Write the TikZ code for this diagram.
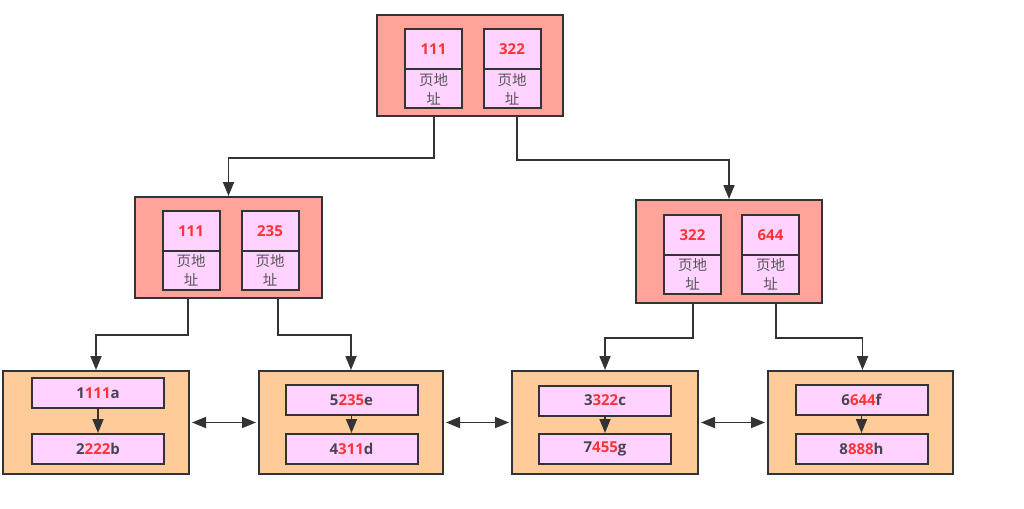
\documentclass[tikz,border=0pt]{standalone}
\usepackage{fontspec}
\setmainfont{Open Sans}
\newfontfamily\cjk{Noto Sans CJK SC}
\usetikzlibrary{arrows.meta}
\definecolor{bd}{HTML}{333333}
\definecolor{salm}{HTML}{FFA39B}
\definecolor{peach}{HTML}{FFCC99}
\definecolor{pinkb}{HTML}{FFD2FF}
\definecolor{rd}{HTML}{FF3333}
\definecolor{dk}{HTML}{4A4452}
\definecolor{gr}{HTML}{555555}
\newcommand{\lk}[3]{\textcolor{dk}{#1}\textcolor{rd}{#2}\textcolor{dk}{#3}}
\begin{document}
\begin{tikzpicture}[x=1pt,y=-1pt,
  pg/.style={draw=bd, line width=2pt, fill=salm, inner sep=0pt},
  lf/.style={draw=bd, line width=2pt, fill=peach, inner sep=0pt},
  keyb/.style={draw=bd, line width=2pt, fill=pinkb, inner sep=0pt, minimum width=57pt, minimum height=40pt, text=rd, font=\fontsize{15}{17}\selectfont\bfseries},
  addrb/.style={draw=bd, line width=2pt, fill=pinkb, inner sep=0pt, minimum width=57pt, minimum height=39pt, text=gr, align=center, font=\cjk\fontsize{14.5}{19}\selectfont},
  rec/.style={draw=bd, line width=2pt, fill=pinkb, inner sep=0pt, minimum width=132pt, minimum height=30pt, font=\fontsize{15}{17}\selectfont\bfseries},
  tip/.style={Triangle[length=14pt,width=11pt]},
  arr/.style={draw=bd, line width=1.8pt, -{Triangle[length=14pt,width=11pt]}},
  darr/.style={draw=bd, line width=1.8pt, {Triangle[length=14pt,width=11pt]}-{Triangle[length=14pt,width=11pt]}, shorten <=2pt, shorten >=2pt}
]
\useasboundingbox (0,0) rectangle (1024,508);
\fill[white] (0,0) rectangle (1024,508);

% top page
\node[pg, minimum width=186pt, minimum height=101pt] (top) at (470,65.5) {};
\node[keyb] (tk1) at (433.5,49) {111};
\node[addrb] (ta1) at (433.5,89) {页地\\址};
\node[keyb] (tk2) at (512,49) {322};
\node[addrb] (ta2) at (512,89) {页地\\址};

% level 2 left
\node[pg, minimum width=187pt, minimum height=101pt] (L) at (228.5,247.5) {};
\node[keyb] (lk1) at (191,231) {111};
\node[addrb] (la1) at (191,270) {页地\\址};
\node[keyb] (lk2) at (270,231) {235};
\node[addrb] (la2) at (270,270) {页地\\址};

% level 2 right
\node[pg, minimum width=186pt, minimum height=103pt] (R) at (729,251.5) {};
\node[keyb] (rk1) at (692.5,235) {322};
\node[addrb] (ra1) at (692.5,274.5) {页地\\址};
\node[keyb] (rk2) at (770.5,235) {644};
\node[addrb] (ra2) at (770.5,274.5) {页地\\址};

% leaves
\node[lf, minimum width=186pt, minimum height=103pt] (F1) at (96,422.5) {};
\node[rec] (a) at (98,393) {\lk{1}{111}{a}};
\node[rec] (b) at (98,449) {\lk{2}{222}{b}};

\node[lf, minimum width=184pt, minimum height=103pt] (F2) at (351,422.5) {};
\node[rec] (e) at (351.5,400) {\lk{5}{235}{e}};
\node[rec] (d) at (351.5,449) {\lk{4}{311}{d}};

\node[lf, minimum width=186pt, minimum height=103pt] (F3) at (605,422.5) {};
\node[rec] (c) at (605,400.5) {\lk{3}{322}{c}};
\node[rec] (g) at (605,449) {\lk{7}{455}{g}};

\node[lf, minimum width=185pt, minimum height=103pt] (F4) at (860.5,422.5) {};
\node[rec] (f) at (861.5,400) {\lk{6}{644}{f}};
\node[rec] (h) at (861.5,449) {\lk{8}{888}{h}};

% tree connectors
\draw[arr] ([xshift=-36pt]top.south) -- ++(0,41) -| (L.north);
\draw[arr] ([xshift=47pt]top.south) -- ++(0,43) -| (R.north);
\draw[arr] ([xshift=-40.5pt]L.south) -- ++(0,36) -| (F1.north);
\draw[arr] ([xshift=49.5pt]L.south) -- ++(0,36) -| (F2.north);
\draw[arr] ([xshift=-36pt]R.south) -- ++(0,34) -| (F3.north);
\draw[arr] ([xshift=47pt]R.south) -- ++(0,34) -| ([xshift=2pt]F4.north);

% in-leaf arrows
\draw[arr] (a) -- (b);
\draw[arr] (e) -- (d);
\draw[arr] (c) -- (g);
\draw[arr] (f) -- (h);

% sibling links
\draw[darr] (F1.east) -- (F2.west);
\draw[darr] (F2.east) -- (F3.west);
\draw[darr] (F3.east) -- (F4.west);
\end{tikzpicture}
\end{document}
